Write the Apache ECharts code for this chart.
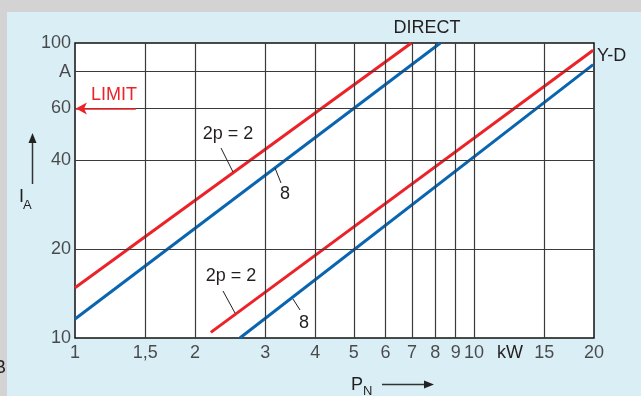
<!DOCTYPE html>
<html>
<head>
<meta charset="utf-8">
<script src="https://cdn.jsdelivr.net/npm/echarts@6/dist/echarts.min.js"></script>
<style>
  html, body { margin: 0; padding: 0; background: #d3d3d3; }
  #wrap { position: relative; width: 641px; height: 396px; background: #d3d3d3; overflow: hidden; }
  #panel { position: absolute; left: 7px; top: 12px; right: 0; bottom: 0; background: #d9eef5; }
  #chart { position: absolute; left: 0; top: 0; width: 641px; height: 396px; }
</style>
</head>
<body>
<div id="wrap">
  <div id="panel"></div>
  <div id="chart"></div>
</div>
<script>
// Axis ticks (log-log grid)
const xTicks = [1, 1.5, 2, 3, 4, 5, 6, 7, 8, 9, 10, 15, 20];
const xTickLabels = ['1', '1,5', '2', '3', '4', '5', '6', '7', '8', '9', '10', '15', '20'];
const yTicks = [10, 20, 40, 60, 80, 100];
const yTickLabels = ['10', '20', '40', '60', 'A', '100'];

// Starting current I_A [A] vs rated power P_N [kW], endpoints of each straight line
const directPoles2 = [[1, 14.8], [6.97, 100]];
const directPoles8 = [[1, 11.6], [8.24, 100]];
const starDeltaPoles2 = [[2.19, 10.45], [19.9, 94.5]];
const starDeltaPoles8 = [[2.59, 10], [19.9, 84.5]];

// Current limit marked on the I_A axis
const limitCurrent = 60;
const limitArrowFrom = 1.42;

const RED = '#ec2229';
const BLUE = '#0a65b0';
const INK = '#231f20';
const FONT = 'Liberation Sans, Arial, sans-serif';

const chart = echarts.init(document.getElementById('chart'), null, { renderer: 'canvas' });

const txt = (x, y, text, opts) => Object.assign({
  type: 'text', x: x, y: y, z: 50,
  style: Object.assign({ text: text, fill: INK, font: '18px ' + FONT, textVerticalAlign: 'middle' }, opts || {})
});
const seg = (x1, y1, x2, y2, color, w) => ({
  type: 'line', z: 50,
  shape: { x1: x1, y1: y1, x2: x2, y2: y2 },
  style: { stroke: color || INK, lineWidth: w || 1 }
});

chart.setOption({
  animation: false,
  backgroundColor: 'transparent',
  grid: {
    left: 75, top: 43, right: 47, bottom: 58,
    show: true, backgroundColor: '#ffffff', borderColor: '#111', borderWidth: 1.5
  },
  xAxis: {
    type: 'log', logBase: 10, min: 1, max: 20,
    axisLine: { show: false }, axisTick: { show: false },
    axisLabel: { show: false }, splitLine: { show: false }, minorSplitLine: { show: false }
  },
  yAxis: {
    type: 'log', logBase: 10, min: 10, max: 100,
    axisLine: { show: false }, axisTick: { show: false },
    axisLabel: { show: false }, splitLine: { show: false }, minorSplitLine: { show: false }
  },
  series: [
    {
      // grid lines at the labelled values
      type: 'line', data: [], z: 1, silent: true,
      markLine: {
        silent: true, symbol: ['none', 'none'], label: { show: false },
        lineStyle: { color: '#3a3a3a', width: 1.2, type: 'solid' },
        data: xTicks.slice(1, -1).map(v => ({ xAxis: v }))
          .concat(yTicks.slice(1, -1).map(v => ({ yAxis: v })))
      }
    },
    {
      // x tick labels
      type: 'scatter', symbolSize: 0, clip: false, silent: true, z: 5,
      data: xTicks.map((v, i) => ({ value: [v, 10], name: xTickLabels[i] })),
      label: {
        show: true, position: 'bottom', distance: 6,
        formatter: p => p.name, color: INK, fontSize: 18, fontFamily: FONT
      }
    },
    {
      // y tick labels
      type: 'scatter', symbolSize: 0, clip: false, silent: true, z: 5,
      data: yTicks.map((v, i) => ({ value: [1, v], name: yTickLabels[i] })),
      label: {
        show: true, position: 'left', distance: 4,
        formatter: p => p.name, color: INK, fontSize: 18, fontFamily: FONT
      }
    },
    {
      // LIMIT arrow
      type: 'line', data: [], z: 4, silent: true,
      markLine: {
        silent: true, symbol: ['none', 'arrow'], symbolSize: [9, 11], label: { show: false },
        lineStyle: { color: RED, width: 1.5, type: 'solid' },
        data: [[{ coord: [limitArrowFrom, limitCurrent] }, { coord: [1.005, limitCurrent] }]]
      }
    },
    { type: 'line', name: 'DIRECT 2p=2', data: directPoles2, symbol: 'none', z: 3, lineStyle: { color: RED, width: 3 } },
    { type: 'line', name: 'DIRECT 2p=8', data: directPoles8, symbol: 'none', z: 3, lineStyle: { color: BLUE, width: 3 } },
    { type: 'line', name: 'Y-D 2p=2', data: starDeltaPoles2, symbol: 'none', z: 3, lineStyle: { color: RED, width: 3 } },
    { type: 'line', name: 'Y-D 2p=8', data: starDeltaPoles8, symbol: 'none', z: 3, lineStyle: { color: BLUE, width: 3 } }
  ],
  graphic: [
    txt(427, 28, 'DIRECT', { textAlign: 'center' }),
    txt(597, 56, 'Y-D', { textAlign: 'left' }),
    txt(91, 95, 'LIMIT', { textAlign: 'left', fill: RED }),
    txt(510, 353, 'kW', { textAlign: 'center' }),
    // pole-number labels with leader lines
    txt(228, 134, '2p = 2', { textAlign: 'center' }),
    seg(221, 148, 233, 172),
    txt(285, 194, '8', { textAlign: 'center' }),
    seg(275, 168, 281, 183),
    txt(231, 276, '2p = 2', { textAlign: 'center' }),
    seg(223, 291, 235, 313),
    txt(304, 323, '8', { textAlign: 'center' }),
    seg(293, 299, 300, 310),
    // I_A axis title and arrow
    txt(19, 197, 'I', { textAlign: 'left' }),
    txt(23, 205, 'A', { textAlign: 'left', font: '13px ' + FONT }),
    seg(32.5, 184, 32.5, 140, '#333', 1.5),
    { type: 'polygon', z: 50, shape: { points: [[32.5, 133], [28.5, 143], [36.5, 143]] }, style: { fill: '#222' } },
    // P_N axis title and arrow
    txt(351, 385, 'P', { textAlign: 'left' }),
    txt(363, 391, 'N', { textAlign: 'left', font: '13px ' + FONT }),
    seg(382, 384.5, 426, 384.5, '#333', 1.5),
    { type: 'polygon', z: 50, shape: { points: [[434, 384.5], [424, 380.5], [424, 388.5]] }, style: { fill: '#222' } },
    txt(-6, 368, 'B', { textAlign: 'left' })
  ]
});
</script>
</body>
</html>
